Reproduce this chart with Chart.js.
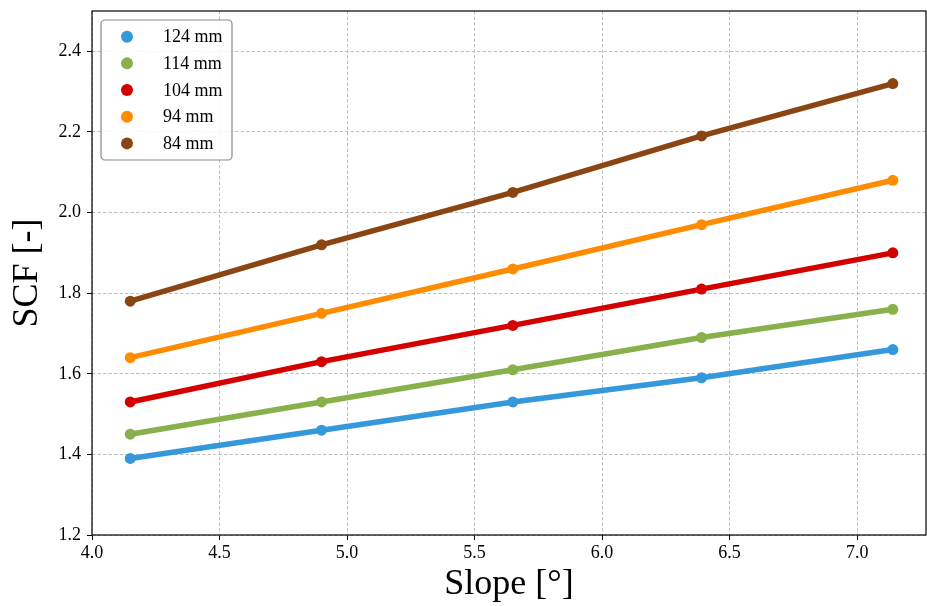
<!DOCTYPE html>
<html>
<head>
<meta charset="utf-8">
<script src="https://cdn.jsdelivr.net/npm/chart.js@4.4.1/dist/chart.umd.min.js"></script>
<style>
  html, body { margin: 0; padding: 0; background: #fff; }
  #wrap { width: 927px; height: 606px; }
</style>
</head>
<body>
<div id="wrap"><canvas id="scfChart" width="927" height="606"></canvas></div>
<script>
// data
const slopes = [4.15, 4.9, 5.65, 6.39, 7.14];
const labels = ['124 mm', '114 mm', '104 mm', '94 mm', '84 mm'];
const scf124 = [1.39, 1.46, 1.53, 1.59, 1.66];
const scf114 = [1.45, 1.53, 1.61, 1.69, 1.76];
const scf104 = [1.53, 1.63, 1.72, 1.81, 1.90];
const scf94 = [1.64, 1.75, 1.86, 1.97, 2.08];
const scf84 = [1.78, 1.92, 2.05, 2.19, 2.32];
const xTicks = [4.0, 4.5, 5.0, 5.5, 6.0, 6.5, 7.0];
const yTicks = [1.2, 1.4, 1.6, 1.8, 2.0, 2.2, 2.4];

const colors = ['#3498db', '#88b04b', '#d40000', '#ff8c00', '#8b4513'];
const series = [scf124, scf114, scf104, scf94, scf84];

const serif = '"Liberation Serif", "Times New Roman", serif';

const datasets = series.map(function (vals, i) {
  return {
    label: labels[i],
    data: vals.map(function (v, j) { return { x: slopes[j], y: v }; }),
    borderColor: colors[i],
    backgroundColor: colors[i],
    borderWidth: 5.5,
    pointRadius: 5.5,
    pointHoverRadius: 5.5,
    pointBorderWidth: 0,
    tension: 0
  };
});

// frame around the plot + legend box
const framePlugin = {
  id: 'frame',
  afterDraw: function (chart) {
    const ctx = chart.ctx;
    const a = chart.chartArea;
    ctx.save();
    ctx.strokeStyle = '#000';
    ctx.lineWidth = 1.2;
    ctx.strokeRect(a.left, a.top, a.right - a.left, a.bottom - a.top);

    // legend
    const bx = 101, by = 20, bw = 131, bh = 140;
    ctx.beginPath();
    ctx.roundRect(bx, by, bw, bh, 4);
    ctx.fillStyle = 'rgba(255,255,255,0.85)';
    ctx.fill();
    ctx.strokeStyle = '#888';
    ctx.lineWidth = 1.2;
    ctx.stroke();
    ctx.font = '18px ' + serif;
    ctx.textBaseline = 'middle';
    ctx.textAlign = 'left';
    chart.data.datasets.forEach(function (ds, i) {
      const cy = by + 16.7 + i * 26.67;
      ctx.beginPath();
      ctx.arc(bx + 26, cy, 6, 0, Math.PI * 2);
      ctx.fillStyle = ds.borderColor;
      ctx.fill();
      ctx.fillStyle = '#000';
      ctx.fillText(ds.label, bx + 62, cy + 1);
    });
    ctx.restore();
  }
};

new Chart(document.getElementById('scfChart'), {
  type: 'line',
  data: { datasets: datasets },
  plugins: [framePlugin],
  options: {
    responsive: false,
    animation: false,
    layout: { autoPadding: false, padding: { top: 11, right: 1, left: 0, bottom: 0 } },
    plugins: {
      legend: { display: false },
      tooltip: { enabled: false }
    },
    scales: {
      x: {
        type: 'linear',
        min: 4.0,
        max: 7.27,
        afterFit: function (s) { s.height = 71; s.paddingLeft = 0; s.paddingRight = 0; },
        afterBuildTicks: function (s) { s.ticks = xTicks.map(function (v) { return { value: v }; }); },
        ticks: {
          color: '#000',
          font: { family: serif, size: 18 },
          padding: 2,
          maxRotation: 0,
          callback: function (v) { return Number(v).toFixed(1); }
        },
        grid: { color: '#b0b0b0', lineWidth: 0.8, tickColor: '#000', tickLength: 5, tickWidth: 1, tickBorderDash: [] },
        border: { display: false, dash: [3.5, 2] },
        title: {
          display: true,
          text: 'Slope [°]',
          color: '#000',
          font: { family: serif, size: 36 },
          padding: { top: 0, bottom: 0 }
        }
      },
      y: {
        type: 'linear',
        min: 1.2,
        max: 2.5,
        afterFit: function (s) { s.width = 92; s.paddingTop = 0; s.paddingBottom = 0; },
        afterBuildTicks: function (s) { s.ticks = yTicks.map(function (v) { return { value: v }; }); },
        ticks: {
          color: '#000',
          font: { family: serif, size: 18 },
          padding: 6,
          callback: function (v) { return Number(v).toFixed(1); }
        },
        grid: { color: '#b0b0b0', lineWidth: 0.8, tickColor: '#000', tickLength: 5, tickWidth: 1, tickBorderDash: [] },
        border: { display: false, dash: [3.5, 2] },
        title: {
          display: true,
          text: 'SCF [-]',
          color: '#000',
          font: { family: serif, size: 36 },
          padding: { top: 6, bottom: 0 }
        }
      }
    }
  }
});
</script>
</body>
</html>
